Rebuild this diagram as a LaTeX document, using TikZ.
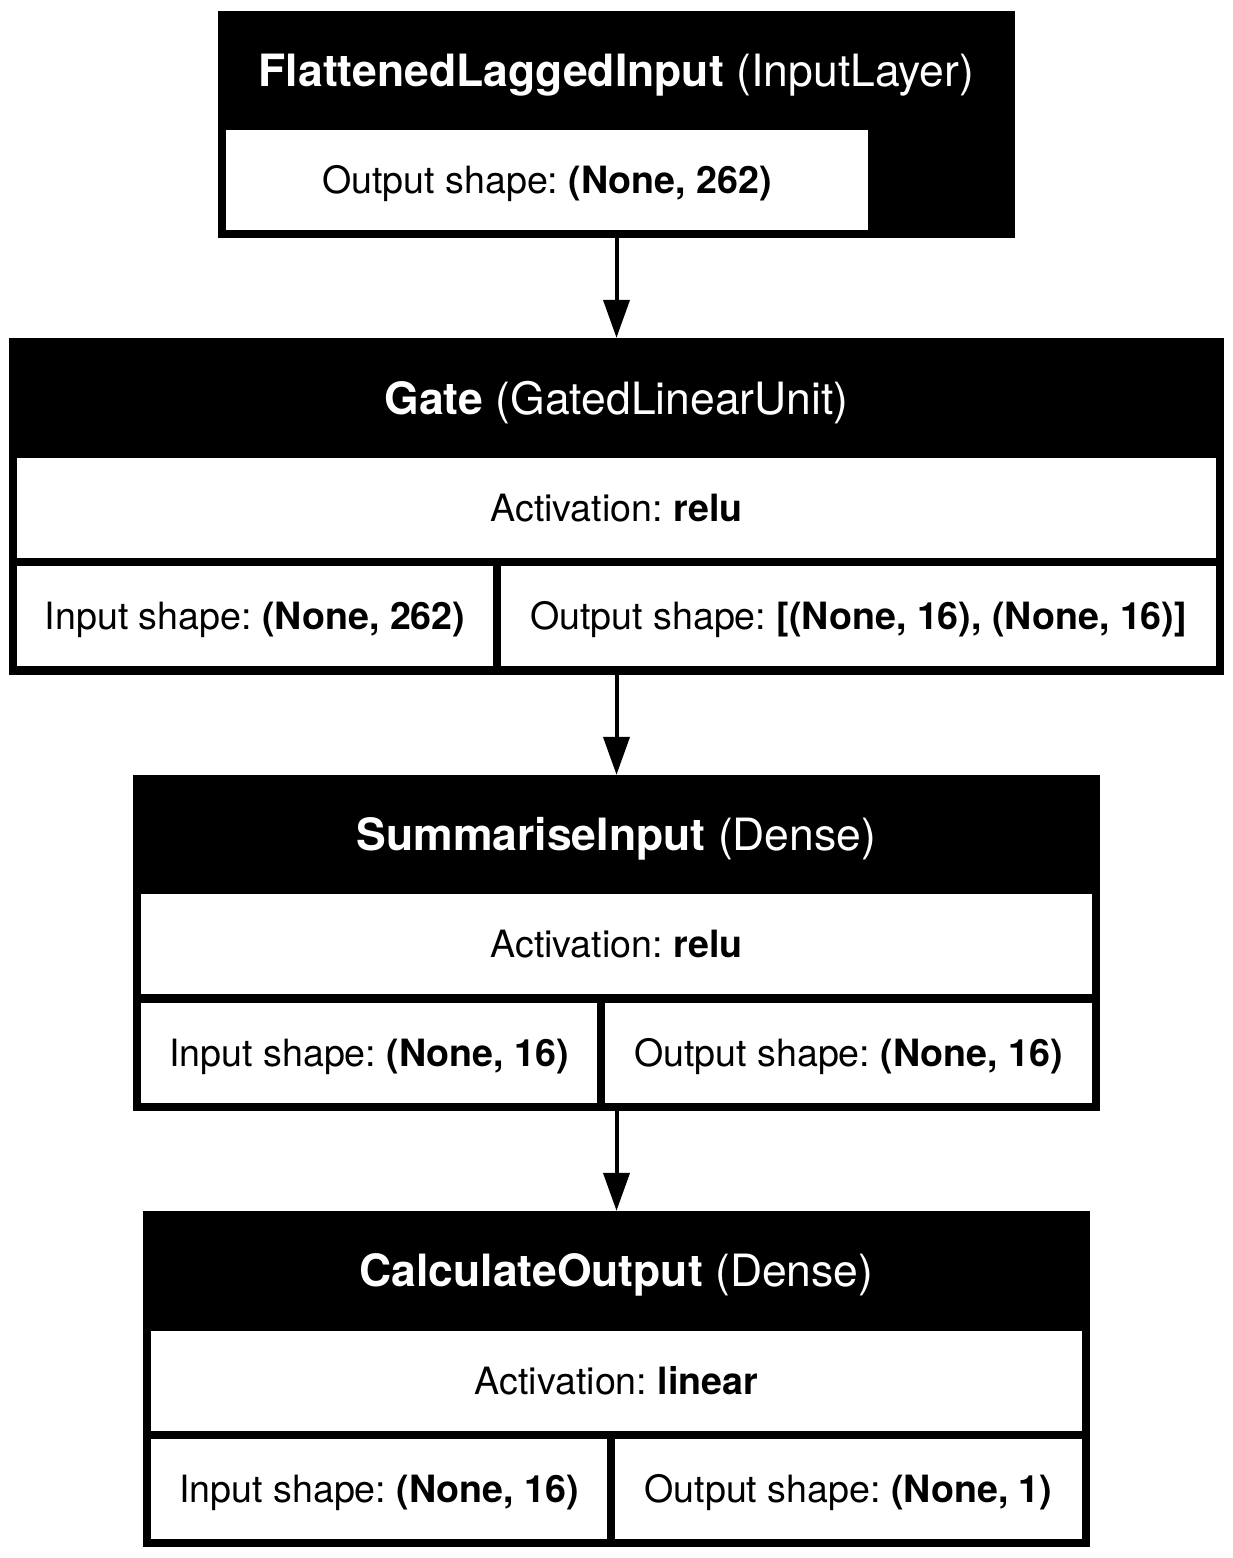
\documentclass[tikz,border=0pt]{standalone}
\usepackage{fontspec}
\setmainfont{TeX Gyre Heros}
\frenchspacing
\usetikzlibrary{arrows.meta}

\tikzset{
  layer/.style={fill=black, inner sep=0pt},
  title/.style={text=white, inner sep=0pt, font=\fontsize{44.5}{53}\selectfont,
    text height=32pt, text depth=0pt},
  cell/.style={fill=white, inner sep=0pt, minimum height=100pt,
    font=\fontsize{37.6}{45}\selectfont, text height=27pt, text depth=0pt},
  flow/.style={line width=4pt, -{Triangle[width=26pt,length=38pt]}}
}

\begin{document}
\begin{tikzpicture}[x=1pt, y=-1pt]
    \useasboundingbox (0,0) rectangle (1233,1558);

    % FlattenedLaggedInput
    \node[layer, minimum width=797pt, minimum height=227pt] (inp) at (616.5,124.5) {};
    \node[title] (inptitle) at (616.5,70.5) {\textbf{FlattenedLaggedInput} (InputLayer)};
    \node[cell, minimum width=642pt] (inpout) at (547,180) {Output shape: \textbf{(None, 262)}};

    % Gate
    \node[layer, minimum width=1215pt, minimum height=337pt] (gate) at (616.5,506.5) {};
    \node[title] (gatetitle) at (616.5,398) {\textbf{Gate} (GatedLinearUnit)};
    \node[cell, minimum width=1199pt] (gateact) at (616.5,508) {Activation: \textbf{relu}};
    \node[cell, minimum width=476pt] (gatein) at (255,616) {Input shape: \textbf{(None, 262)}};
    \node[cell, minimum width=715pt] (gateout) at (858.5,616) {Output shape: \textbf{[(None, 16), (None, 16)]}};

    % SummariseInput
    \node[layer, minimum width=967pt, minimum height=336pt] (summ) at (616.5,943) {};
    \node[title] (summtitle) at (616.5,834.5) {\textbf{SummariseInput} (Dense)};
    \node[cell, minimum width=951pt] (summact) at (616.5,944) {Activation: \textbf{relu}};
    \node[cell, minimum width=456pt] (summin) at (369,1052.5) {Input shape: \textbf{(None, 16)}};
    \node[cell, minimum width=487pt] (summout) at (848.5,1052.5) {Output shape: \textbf{(None, 16)}};

    % CalculateOutput
    \node[layer, minimum width=947pt, minimum height=336pt] (calc) at (616.5,1379) {};
    \node[title] (calctitle) at (616.5,1270.5) {\textbf{CalculateOutput} (Dense)};
    \node[cell, minimum width=931pt] (calcact) at (616.5,1380.5) {Activation: \textbf{linear}};
    \node[cell, minimum width=456pt] (calcin) at (379,1488.5) {Input shape: \textbf{(None, 16)}};
    \node[cell, minimum width=467pt] (calcout) at (848.5,1488.5) {Output shape: \textbf{(None, 1)}};

    \draw[flow] (inp.south) to (gate.north);
    \draw[flow] (gate.south) to (summ.north);
    \draw[flow] (summ.south) to (calc.north);
\end{tikzpicture}
\end{document}
